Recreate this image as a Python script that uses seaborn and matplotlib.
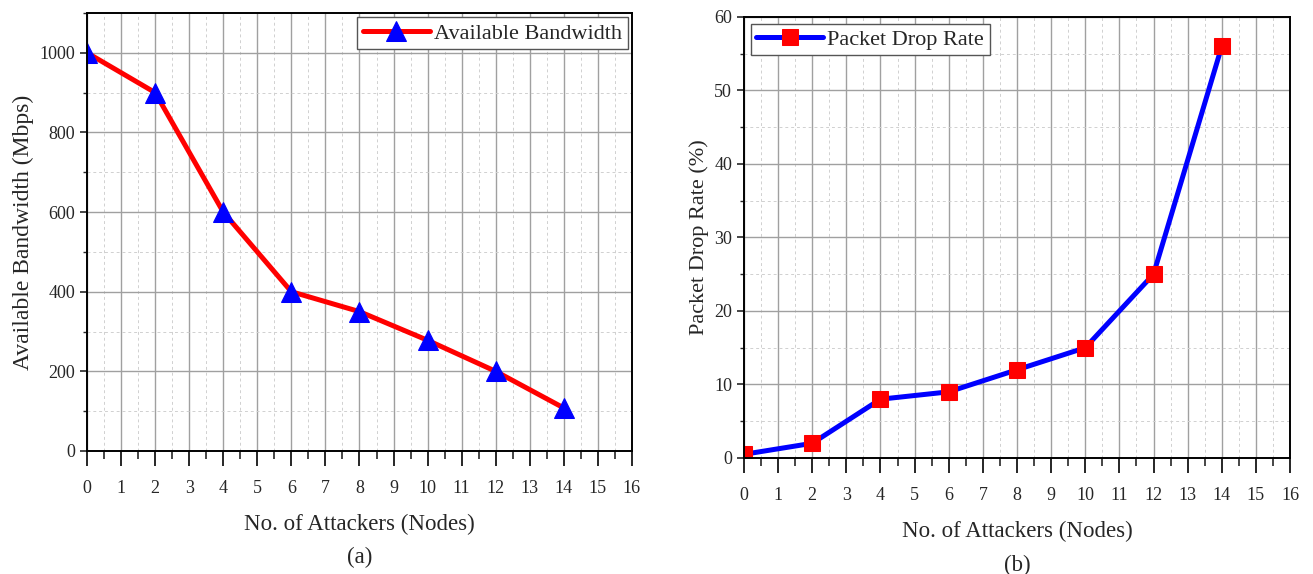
import matplotlib
matplotlib.use('Agg')
import matplotlib.pyplot as plt
import seaborn as sns
import pandas as pd
from matplotlib.ticker import MultipleLocator

# dados
atacantes = [0, 2, 4, 6, 8, 10, 12, 14]
banda = [1000, 900, 600, 400, 350, 278, 200, 108]
perda = [0.5, 2, 8, 9, 12, 15, 25, 56]

df = pd.DataFrame({'atacantes': atacantes, 'banda': banda, 'perda': perda})

sns.set_style('ticks')
plt.rcParams['font.family'] = ['Liberation Serif', 'DejaVu Serif']
plt.rcParams['axes.linewidth'] = 1.4

fig = plt.figure(figsize=(13.13, 5.74), dpi=100)
ax1 = fig.add_axes([0.0663, 0.2143, 0.4150, 0.7631])
ax2 = fig.add_axes([0.5666, 0.2021, 0.4159, 0.7683])


def estilo(ax, ymax, ymaj, ymin):
    ax.set_xlim(0, 16)
    ax.set_ylim(0, ymax)
    ax.xaxis.set_major_locator(MultipleLocator(1))
    ax.xaxis.set_minor_locator(MultipleLocator(0.5))
    ax.yaxis.set_major_locator(MultipleLocator(ymaj))
    ax.yaxis.set_minor_locator(MultipleLocator(ymin))
    ax.grid(which='major', color='#a0a0a0', linewidth=1.0, linestyle='-')
    ax.grid(which='minor', color='#d0d0d0', linewidth=0.7, linestyle=(0, (3, 3)))
    ax.set_axisbelow(True)
    ax.tick_params(axis='x', which='major', direction='out', length=11, width=1.4,
                   pad=10, labelsize=13)
    ax.tick_params(axis='x', which='minor', direction='out', length=6, width=1.2)
    ax.tick_params(axis='y', which='major', direction='out', length=5, width=1.2,
                   labelsize=13)
    ax.tick_params(axis='y', which='minor', direction='out', length=3, width=1.0)
    for s in ax.spines.values():
        s.set_visible(True)
        s.set_color('black')
    ax.set_xlabel('No. of Attackers (Nodes)', fontsize=16.5, labelpad=12)


# Grafico (a) - banda disponivel
sns.lineplot(
    x='atacantes', y='banda', data=df, ax=ax1,
    color='#ff0000', linewidth=3.6, marker='^', markersize=15,
    markerfacecolor='#0000ff', markeredgecolor='#0000ff',
    label='Available Bandwidth'
)
estilo(ax1, 1100, 200, 100)
ax1.set_ylabel('Available Bandwidth (Mbps)', fontsize=17)
ax1.legend(loc='upper right', fontsize=16, handlelength=3, fancybox=False,
           edgecolor='#555555', framealpha=1, borderaxespad=0.2,
           borderpad=0.25, handletextpad=0.2)

# Grafico (b) - taxa de perda de pacotes
sns.lineplot(
    x='atacantes', y='perda', data=df, ax=ax2,
    color='#0000ff', linewidth=3.6, marker='s', markersize=12,
    markerfacecolor='#ff0000', markeredgecolor='#ff0000',
    label='Packet Drop Rate'
)
estilo(ax2, 60, 10, 5)
ax2.set_ylabel('Packet Drop Rate (%)', fontsize=16)
ax2.legend(loc='upper left', fontsize=16, handlelength=3, fancybox=False,
           edgecolor='#555555', framealpha=1, borderaxespad=0.3,
           borderpad=0.25, handletextpad=0.2)

fig.text(0.2738, 1 - 557 / 574, '(a)', ha='center', va='center', fontsize=16.5)
fig.text(0.7745, 1 - 565 / 574, '(b)', ha='center', va='center', fontsize=16.5)

plt.savefig('out.png', dpi=100)
